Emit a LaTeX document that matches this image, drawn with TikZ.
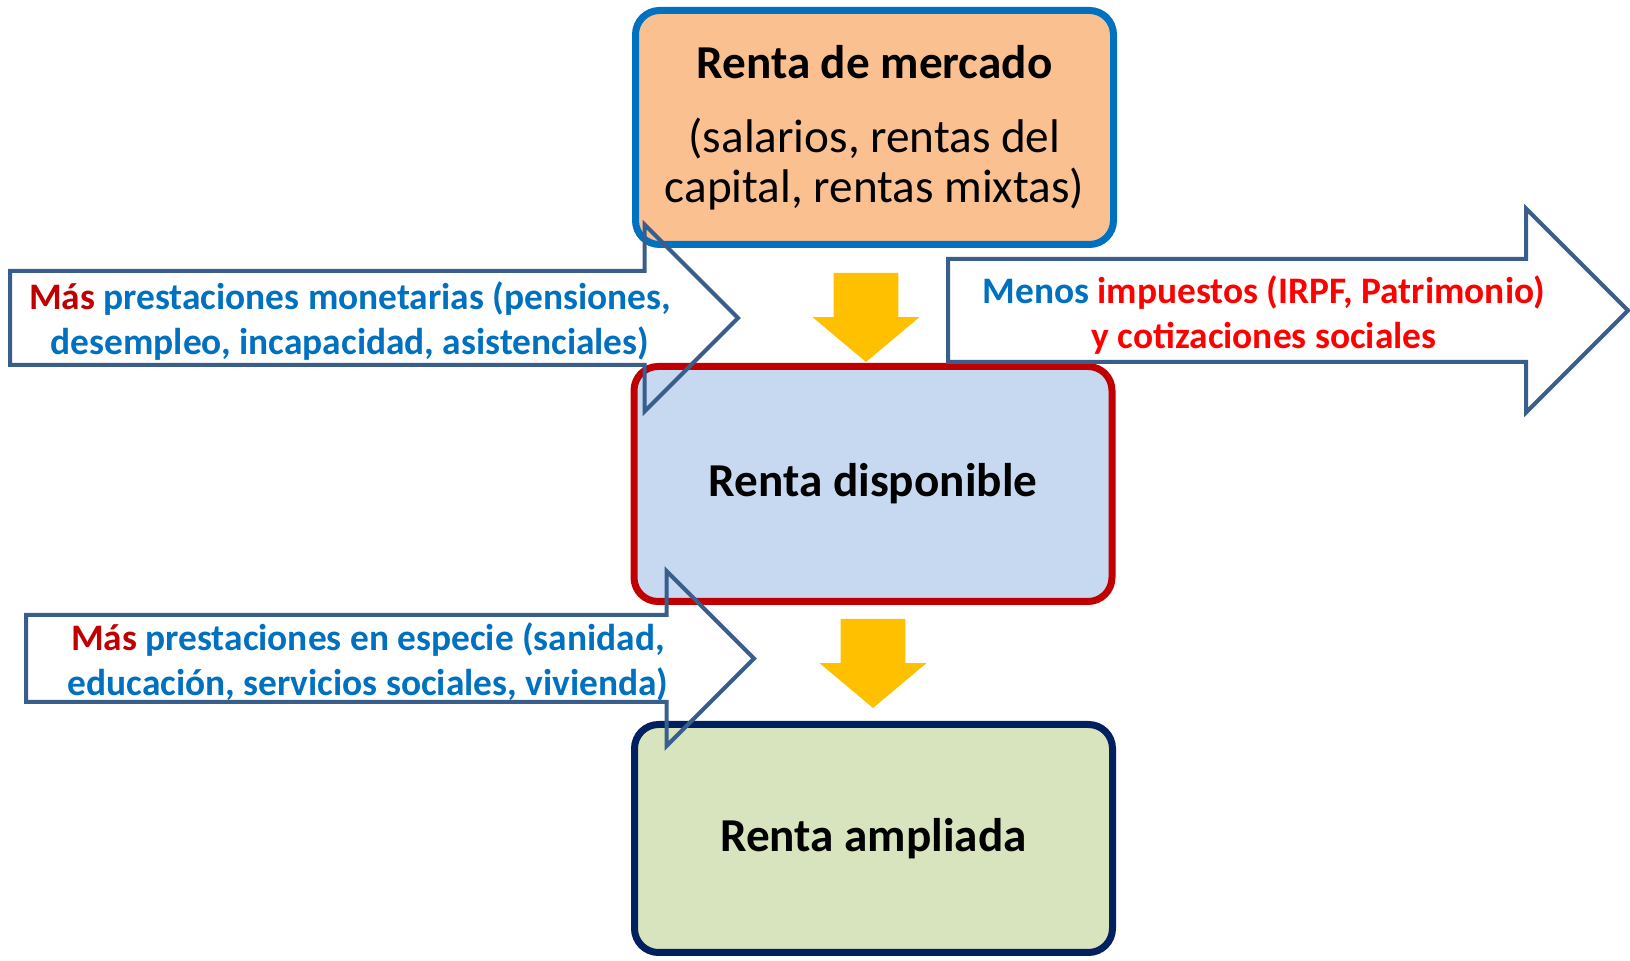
\documentclass[tikz,border=0pt]{standalone}
\usepackage{fontspec}
\setmainfont{Carlito}
\usetikzlibrary{shapes.arrows}
\definecolor{themeBlue}{RGB}{0, 112, 192}
\definecolor{themeRed}{RGB}{192, 0, 0}
\definecolor{themeBrightRed}{RGB}{255, 0, 0}
\definecolor{themeNavy}{RGB}{0, 32, 96}
\definecolor{themeSlate}{RGB}{58, 94, 140}
\definecolor{themeYellow}{RGB}{255, 192, 0}
\definecolor{fillOrange}{RGB}{250, 192, 144}
\definecolor{fillBlue}{RGB}{198, 217, 241}
\definecolor{fillGreen}{RGB}{215, 228, 189}

\begin{document}
\begin{tikzpicture} [
        x=0.5pt, y=-0.5pt,
        box/.style={rounded corners=12pt, line width=3.5pt, minimum width=239pt, align=center,
            font=\fontsize{23.6}{25}\selectfont},
        bigarrow/.style={single arrow, draw=themeSlate, line width=2pt, inner xsep=0pt,
            outer sep=0pt, single arrow tip angle=90, anchor=tail},
        downarrow/.style={single arrow, fill=themeYellow, inner xsep=0pt, inner ysep=16pt,
            outer sep=0pt, single arrow head extend=10.5pt, single arrow tip angle=100,
            minimum height=44.5pt, rotate=-90, anchor=tail},
        c/.style={align=center, text=themeBlue, font=\fontsize{18.7}{22.5}\selectfont\bfseries}
    ]
        \useasboundingbox (0,0) rectangle (1630,961);

        % boxes
        \node [box, draw=themeBlue, fill=fillOrange, minimum height=117pt] (mercado) at (874.5,127.5) {
                \textbf{Renta de mercado}\\[12pt]
                (salarios, rentas del\\
                capital, rentas mixtas)
            };
        \node [box, draw=themeRed, fill=fillBlue, minimum height=117.5pt] (disponible) at (873,484) {\textbf{Renta disponible}};
        \node [box, draw=themeNavy, fill=fillGreen, minimum height=114pt] (ampliada) at (873.5,838.5) {\textbf{Renta ampliada}};

        % yellow arrows between boxes
        \node [downarrow] (down1) at (866,273) {};
        \node [downarrow] (down2) at (873,619) {};

        % block arrows
        \node [bigarrow, inner ysep=22.5pt, single arrow head extend=23.25pt, minimum height=364pt] (monetarias) at (10,318) {};
        \node [bigarrow, inner ysep=24.75pt, single arrow head extend=25.25pt, minimum height=340pt] (impuestos) at (948,310.5) {};
        \node [bigarrow, inner ysep=20.75pt, single arrow head extend=22pt, minimum height=364pt] (especie) at (26,658.5) {};

        \node [c] (t_monetarias) at (350,321.5) {
                \textcolor{themeRed}{Más} prestaciones monetarias (pensiones,\\
                desempleo, incapacidad, asistenciales)
            };
        \node [c, text=themeBrightRed] (t_impuestos) at (1264,315) {
                \textcolor{themeBlue}{Menos} impuestos (IRPF, Patrimonio)\\
                y cotizaciones sociales
            };
        \node [c] (t_especie) at (368,661.5) {
                \textcolor{themeRed}{Más} prestaciones en especie (sanidad,\\
                educación, servicios sociales, vivienda)
            };
    \end{tikzpicture}
\end{document}
